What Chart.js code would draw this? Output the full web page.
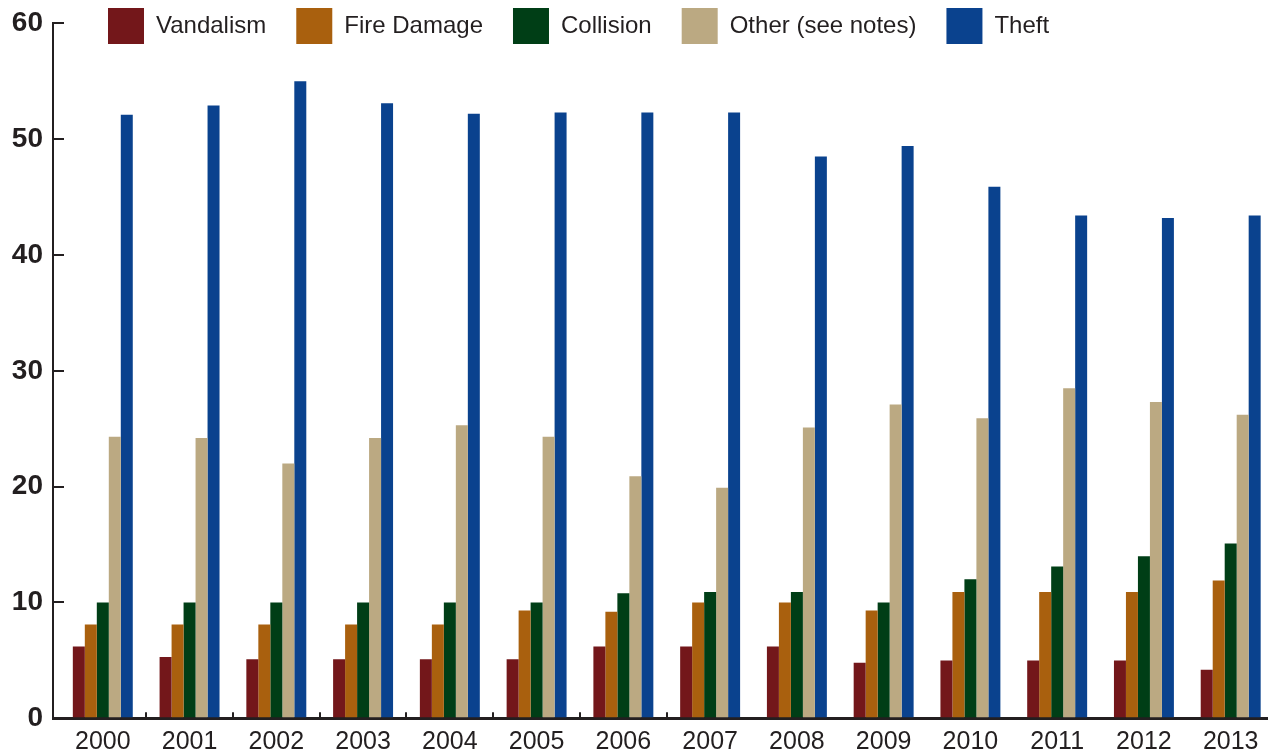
<!DOCTYPE html>
<html>
<head>
<meta charset="utf-8">
<script src="https://cdn.jsdelivr.net/npm/chart.js@4.4.1/dist/chart.umd.min.js"></script>
<style>
  html, body { margin: 0; padding: 0; background: #ffffff; overflow: hidden; }
  canvas { display: block; }
</style>
</head>
<body>
<canvas id="chart" width="1268" height="755"></canvas>
<script>
// Yearly counts by category
const years = ['2000', '2001', '2002', '2003', '2004', '2005', '2006',
               '2007', '2008', '2009', '2010', '2011', '2012', '2013'];
const vandalism  = [6.2, 5.3, 5.1, 5.1, 5.1, 5.1, 6.2, 6.2, 6.2, 4.8, 5.0, 5.0, 5.0, 4.2];
const fireDamage = [8.1, 8.1, 8.1, 8.1, 8.1, 9.3, 9.2, 10.0, 10.0, 9.3, 10.9, 10.9, 10.9, 11.9];
const collision  = [10.0, 10.0, 10.0, 10.0, 10.0, 10.0, 10.8, 10.9, 10.9, 10.0, 12.0, 13.1, 14.0, 15.1];
const other      = [24.3, 24.2, 22.0, 24.2, 25.3, 24.3, 20.9, 19.9, 25.1, 27.1, 25.9, 28.5, 27.3, 26.2];
const theft      = [52.1, 52.9, 55.0, 53.1, 52.2, 52.3, 52.3, 52.3, 48.5, 49.4, 45.9, 43.4, 43.2, 43.4];
const yTicks     = [0, 10, 20, 30, 40, 50, 60];

const INK = '#231f20';
const CLEAR = 'rgba(0,0,0,0)';

// Places the legend row across the top of the plot
const legendRow = {
  id: 'legendRow',
  afterLayout(chart) {
    const lg = chart.legend;
    if (!lg) return;
    const pad = lg.options.labels.padding;
    lg.left = 108 - pad;
    lg.right = chart.width;
    lg.top = 8 - pad;
    lg.bottom = 60;
  }
};

const series = [
  { label: 'Vandalism',         data: vandalism,  color: '#73171a' },
  { label: 'Fire Damage',       data: fireDamage, color: '#a9600e' },
  { label: 'Collision',         data: collision,  color: '#003e16' },
  { label: 'Other (see notes)', data: other,      color: '#bba982' },
  { label: 'Theft',             data: theft,      color: '#0a428e' }
];

new Chart(document.getElementById('chart'), {
  type: 'bar',
  data: {
    labels: years,
    datasets: series.map(s => ({
      label: s.label,
      data: s.data,
      backgroundColor: s.color,
      borderWidth: 0,
      categoryPercentage: 0.691,
      barPercentage: 1.0
    }))
  },
  plugins: [legendRow],
  options: {
    responsive: false,
    animation: false,
    devicePixelRatio: 1,
    layout: { padding: 0 },
    font: { family: "'Liberation Sans', Arial, sans-serif" },
    plugins: {
      tooltip: { enabled: false },
      legend: {
        position: 'top',
        align: 'start',
        maxHeight: 23.3,
        labels: {
          boxWidth: 36,
          boxHeight: 36,
          padding: 30,
          color: INK,
          font: { family: "'Liberation Sans', Arial, sans-serif", size: 24 }
        }
      }
    },
    scales: {
      x: {
        type: 'linear',
        offset: false,
        min: +years[0] - 0.574,
        max: +years[years.length - 1] + 0.43,
        afterFit: s => {
          s.height = 36.7;
          s.paddingLeft = 0;
          s.paddingRight = 0;
        },
        ticks: {
          stepSize: 1,
          includeBounds: false,
          autoSkip: false,
          maxRotation: 0,
          padding: 15,
          color: INK,
          font: { family: "'Liberation Sans', Arial, sans-serif", size: 25 },
          callback: v => String(v)
        },
        grid: {
          offset: true,
          drawOnChartArea: false,
          drawTicks: true,
          tickLength: -6,
          tickWidth: 2,
          lineWidth: 2,
          color: ctx => (ctx.index >= 1 && ctx.index <= 7) ? INK : CLEAR,
          tickColor: ctx => (ctx.index >= 1 && ctx.index <= 7) ? INK : CLEAR
        },
        border: { display: true, color: INK, width: 3 }
      },
      y: {
        min: 0,
        max: 60,
        afterFit: s => {
          s.width = 53;
          s.paddingTop = 0;
          s.paddingBottom = 0;
        },
        afterBuildTicks: s => { s.ticks = yTicks.map(v => ({ value: v })); },
        ticks: {
          padding: 21,
          color: INK,
          font: { family: "'Liberation Sans', Arial, sans-serif", size: 28, weight: 'bold' }
        },
        grid: {
          drawOnChartArea: false,
          drawTicks: true,
          tickLength: -11,
          tickWidth: 2,
          lineWidth: 2,
          color: INK,
          tickColor: INK
        },
        border: { display: true, color: INK, width: 2 }
      }
    }
  }
});
</script>
</body>
</html>
